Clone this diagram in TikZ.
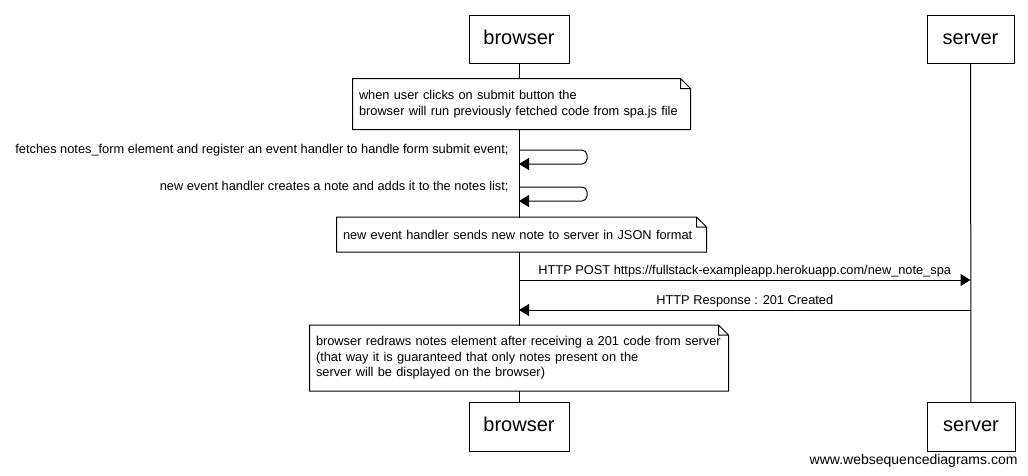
\documentclass[tikz,border=0pt]{standalone}
\usepackage{fontspec}
\setmainfont{Liberation Sans}
\usetikzlibrary{arrows.meta}
\usetikzlibrary{calc}
\newcommand{\fold}[1]{\draw (#1.south west) -- (#1.south east) -- ([yshift=-10pt]#1.north east) -- ([xshift=-10pt]#1.north east) -- (#1.north west) -- cycle ([xshift=-10pt]#1.north east) |- ([yshift=-10pt]#1.north east);}
\tikzset{
	actor/.style={draw, fill=white, inner sep=0pt, minimum height=48pt, text height=14pt, text depth=4.5pt, font=\fontsize{20}{24}\selectfont},
	note/.style={fill=white, inner xsep=6pt, inner ysep=0pt, align=left, font=\fontsize{12.8}{15.5}\selectfont},
	msg/.style={-{Triangle[length=10pt,width=12pt]}},
	lbl/.style={inner sep=2pt, font=\fontsize{12.8}{15.5}\selectfont}
}

\begin{document}
\begin{tikzpicture}[x=1pt, y=-1pt, line width=1pt]
					\useasboundingbox (0,0) rectangle (1028,475);
					\node[actor, minimum width=100pt] (b1) at (519,39.5) {browser};
					\node[actor, minimum width=87pt] (s1) at (970.5,39.5) {server};
					\node[actor, minimum width=100pt, minimum height=49pt] (b2) at (519,427) {browser};
					\node[actor, minimum width=88pt, minimum height=49pt] (s2) at (971,427) {server};
					\draw (b1) -- (b2);
					\draw (s1) -- (s2);
					% notes
					\node[note, text width=325pt, minimum height=50pt] (n1) at (521.5,104) {when user clicks on submit button the\\browser will run previously fetched code from spa.js file};
					\fold{n1}
					\node[note, text width=357pt, minimum height=34pt] (n2) at (521.5,234.5) {new event handler sends new note to server in JSON format};
					\fold{n2}
					\node[note, text width=406pt, minimum height=65pt] (n3) at (519,358) {browser redraws notes element after receiving a 201 code from server\\(that way it is guaranteed that only notes present on the\\server will be displayed on the browser)};
					\fold{n3}
					% messages
					\coordinate (m1) at (519,150);
					\coordinate (m2) at (519,164);
					\coordinate (m3) at (519,187);
					\coordinate (m4) at (519,201);
					\coordinate (p1) at (519,280);
					\coordinate (p2) at (970.5,280);
					\coordinate (r1) at (970.5,310);
					\coordinate (r2) at (519,310);
					\draw[msg, rounded corners=5pt] (m1) -- ++(68,0) |- (m2);
					\draw[msg, rounded corners=5pt] (m3) -- ++(68,0) |- (m4);
					\node[lbl, anchor=east] (t1) at (511,150) {fetches notes\_form element and register an event handler to handle form submit event;};
					\node[lbl, anchor=east] (t2) at (511,187) {new event handler creates a note and adds it to the notes list;};
					\draw[msg] (p1) -- (p2) node[lbl, pos=0.5, above] (t3) {HTTP POST https://fullstack-exampleapp.herokuapp.com/new\_note\_spa};
					\draw[msg] (r1) -- (r2) node[lbl, pos=0.5, above] (t4) {HTTP Response : 201 Created};
					\node[anchor=east, inner sep=0pt, font=\fontsize{14}{16}\selectfont] (w) at (1018,461) {www.websequencediagrams.com};
					\end{tikzpicture}
\end{document}
